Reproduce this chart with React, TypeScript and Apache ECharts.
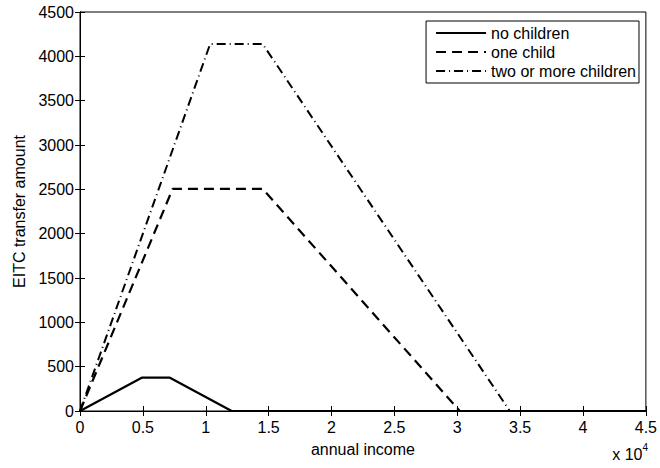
import React, { useEffect, useRef } from "react";
import * as echarts from "echarts";

const seriesNames = ["no children", "one child", "two or more children"];
const noChildren: [number, number][] = [[0, 0], [4910, 376], [7150, 376], [12060, 0], [45000, 0]];
const oneChild: [number, number][] = [[0, 0], [7370, 2506], [14520, 2506], [30201, 0], [45000, 0]];
const twoChildren: [number, number][] = [[0, 0], [10350, 4140], [14520, 4140], [34178, 0], [45000, 0]];
const xTicks = [0, 5000, 10000, 15000, 20000, 25000, 30000, 35000, 40000, 45000];
const yTicks = [0, 500, 1000, 1500, 2000, 2500, 3000, 3500, 4000, 4500];

const FONT = "Liberation Sans";
const FS = 16;

export default function App() {
  const ref = useRef<HTMLDivElement>(null);
  useEffect(() => {
    if (!ref.current) return;
    const chart = echarts.init(ref.current, undefined, { renderer: "svg" });
    const xMax = xTicks[xTicks.length - 1];
    const yMax = yTicks[yTicks.length - 1];
    const tickStyle = { show: true, inside: true, length: 5, lineStyle: { color: "#000", width: 1 } };
    chart.setOption({
      animation: false,
      backgroundColor: "#fff",
      textStyle: { fontFamily: FONT },
      grid: {
        left: 80, right: 12, top: 12, bottom: 57,
        show: true, borderColor: "#000", borderWidth: 1, backgroundColor: "#fff",
      },
      legend: {
        orient: "vertical",
        right: 21,
        top: 21,
        itemWidth: 50,
        itemHeight: 12,
        itemGap: 3,
        padding: [4, 3, 4, 9],
        borderColor: "#000",
        borderWidth: 1,
        borderRadius: 0,
        backgroundColor: "#fff",
        itemStyle: { opacity: 0 },
        textStyle: { fontFamily: FONT, fontSize: FS, color: "#000" },
        data: seriesNames,
      },
      xAxis: [
        {
          type: "value",
          min: 0,
          max: xMax,
          interval: 5000,
          name: "annual income",
          nameLocation: "middle",
          nameGap: 30,
          nameTextStyle: { fontFamily: FONT, fontSize: FS, color: "#000" },
          axisLine: { show: true, lineStyle: { color: "#000", width: 1 } },
          axisTick: tickStyle,
          splitLine: { show: false },
          axisLabel: {
            fontFamily: FONT, fontSize: FS, color: "#000", margin: 8,
            formatter: (v: number) => String(v / 10000),
          },
        },
        {
          type: "value",
          position: "top",
          min: 0,
          max: xMax,
          interval: 5000,
          axisLine: { show: true, lineStyle: { color: "#000", width: 1 } },
          axisTick: tickStyle,
          axisLabel: { show: false },
          splitLine: { show: false },
        },
      ],
      yAxis: [
        {
          type: "value",
          min: 0,
          max: yMax,
          interval: 500,
          name: "EITC transfer amount",
          nameLocation: "middle",
          nameGap: 53,
          nameTextStyle: { fontFamily: FONT, fontSize: FS, color: "#000" },
          axisLine: { show: true, lineStyle: { color: "#000", width: 1 } },
          axisTick: tickStyle,
          splitLine: { show: false },
          axisLabel: {
            fontFamily: FONT, fontSize: FS, color: "#000", margin: 6,
            formatter: (v: number) => String(v),
          },
        },
        {
          type: "value",
          position: "right",
          min: 0,
          max: yMax,
          interval: 500,
          axisLine: { show: true, lineStyle: { color: "#000", width: 1 } },
          axisTick: tickStyle,
          axisLabel: { show: false },
          splitLine: { show: false },
        },
      ],
      graphic: [
        {
          type: "text",
          right: 12,
          bottom: 6,
          style: {
            text: "{b|x 10}{s|4}",
            rich: {
              b: { fontFamily: FONT, fontSize: FS, fill: "#000", verticalAlign: "bottom" },
              s: { fontFamily: FONT, fontSize: 10, fill: "#000", verticalAlign: "top", padding: [0, 0, 10, 0] },
            },
          },
        },
      ],
      series: [
        {
          name: seriesNames[0],
          type: "line",
          data: noChildren,
          showSymbol: false,
          symbol: "none",
          color: "#000",
          lineStyle: { color: "#000", width: 2.2, type: "solid" },
          z: 3,
        },
        {
          name: seriesNames[1],
          type: "line",
          data: oneChild,
          showSymbol: false,
          symbol: "none",
          color: "#000",
          lineStyle: { color: "#000", width: 2.2, type: [10, 6] },
        },
        {
          name: seriesNames[2],
          type: "line",
          data: twoChildren,
          showSymbol: false,
          symbol: "none",
          color: "#000",
          lineStyle: { color: "#000", width: 2, type: [9, 4, 1, 4] },
        },
      ],
    });
    return () => chart.dispose();
  }, []);
  return (
    <div
      ref={ref}
      style={{ position: "fixed", left: 0, top: 0, width: 660, height: 468, background: "#fff" }}
    />
  );
}
